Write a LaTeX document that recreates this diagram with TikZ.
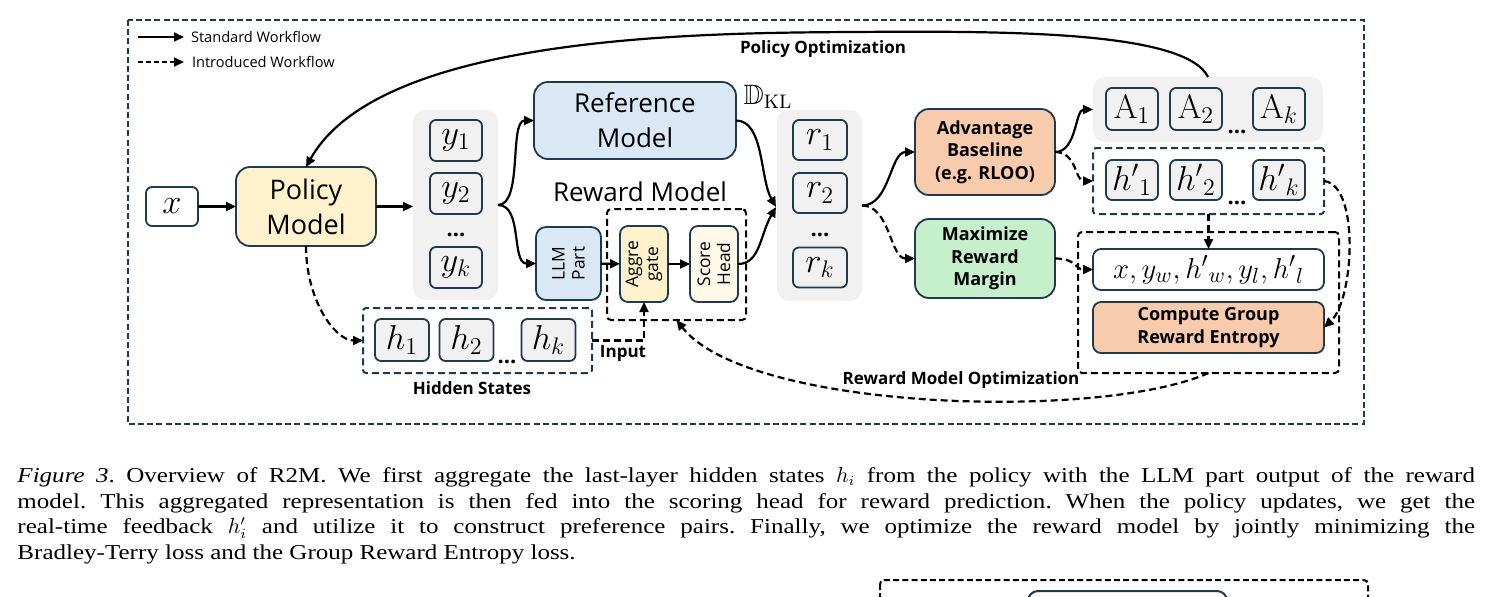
\documentclass[tikz,border=0pt]{standalone}
\usepackage{amsmath}
\usepackage{amssymb}
\usepackage{fontspec}
\setmainfont{Open Sans}
\newfontfamily\capfont[FakeStretch=1.18]{Liberation Serif}
\newfontfamily\lmr{Latin Modern Roman}
\usetikzlibrary{arrows.meta}
\definecolor{bordc}{RGB}{31,58,76}
\definecolor{grayc}{RGB}{241,241,241}
\definecolor{yellowc}{RGB}{255,242,204}
\definecolor{bluec}{RGB}{218,232,245}
\definecolor{creamc}{RGB}{254,249,232}
\definecolor{salmonc}{RGB}{248,203,173}
\definecolor{greenc}{RGB}{198,240,204}
\begin{document}
\begin{tikzpicture}[x=0.5pt,y=-0.5pt,
  every node/.style={inner sep=0pt, outer sep=0pt},
  bx/.style={draw=bordc, line width=0.9pt, rounded corners=3pt, align=center},
  bigbx/.style={draw=bordc, line width=0.9pt, rounded corners=7pt, align=center},
  grp/.style={fill=grayc, rounded corners=6pt},
  dbox/.style={draw=bordc, line width=1pt, dash pattern=on 3.5pt off 2pt, rounded corners=1.5pt},
  kbox/.style={draw=black, line width=1pt, dash pattern=on 3.5pt off 2pt, rounded corners=2pt},
  arr/.style={-{Triangle[length=5pt,width=4.5pt]}, line width=1.1pt},
  darr/.style={arr, dash pattern=on 3.5pt off 2pt},
  mth/.style={font=\fontsize{17}{17}\selectfont},
  lbl/.style={font=\fontsize{8.5}{10}\selectfont\bfseries},
  bld/.style={font=\fontsize{9}{11.25}\selectfont\bfseries, align=center},
  rot/.style={rotate=90, align=center, font=\fontsize{8.7}{10}\selectfont},
  dots/.style={font=\fontsize{11}{11}\selectfont\bfseries},
  leg/.style={font=\fontsize{7.3}{8}\selectfont, anchor=west},
  capl/.style={anchor=base west, font=\capfont\fontsize{10.6}{12.7}\selectfont\frenchspacing},
]
\useasboundingbox (0,0) rectangle (1491,596);
\clip (0,0) rectangle (1491,596);

% outer frame
\draw[draw=bordc, line width=1pt, dash pattern=on 3pt off 1.6pt] (128,20) rectangle (1364,424);

% legend
\coordinate (la1) at (138,37); \coordinate (lb1) at (184,37);
\coordinate (la2) at (138,62); \coordinate (lb2) at (184,62);
\draw[arr, line width=0.9pt] (la1) -- (lb1);
\draw[darr, line width=0.9pt, dash pattern=on 2.5pt off 1.5pt] (la2) -- (lb2);
\node[leg] (leg1) at (191,37) {Standard Workflow};
\node[leg] (leg2) at (192,62) {Introduced Workflow};

% groups
\node[grp, minimum width=42.5pt, minimum height=95pt] (ygrp) at (455.5,205) {};
\node[grp, minimum width=42.5pt, minimum height=95.5pt] (rgrp) at (819.5,205.5) {};
\node[grp, minimum width=115pt, minimum height=32.5pt] (agrp) at (1208,109.5) {};

% left part
\node[bx, fill=white, minimum width=26pt, minimum height=19.5pt, mth] (x) at (172,206.5) {$x$};
\node[bigbx, fill=yellowc, minimum width=70pt, minimum height=39.5pt, font=\fontsize{13.5}{17.5}\selectfont] (policy) at (306,206.5) {Policy\\Model};

\node[bx, fill=grayc, minimum width=26pt, minimum height=20.5pt, mth] (y1) at (456,140.5) {$y_1$};
\node[bx, fill=grayc, minimum width=26pt, minimum height=20.5pt, mth] (y2) at (456,193.5) {$y_2$};
\node[bx, fill=grayc, minimum width=26pt, minimum height=20.5pt, mth] (yk) at (456,267.5) {$y_k$};
\node[dots] (ydots) at (456,235) {...};

% reference / reward model
\node[bigbx, fill=bluec, minimum width=101pt, minimum height=38.5pt, font=\fontsize{13}{17.5}\selectfont] (ref) at (635,120.5) {Reference\\Model};
\node[font=\fontsize{14}{14}\selectfont] (dkl) at (768,97) {$\mathbb{D}_{\text{\lmr KL}}$};
\node[font=\fontsize{13}{13}\selectfont] (rmlabel) at (640,192) {Reward Model};

\node[kbox, minimum width=69.5pt, minimum height=55.5pt] (aggbox) at (676.5,264.5) {};
\node[bx, fill=bluec, rounded corners=5pt, minimum width=32.5pt, minimum height=36.5pt] (llm) at (568.5,263.5) {};
\node[rot] (llmt) at (llm) {LLM\\Part};
\node[bx, fill=yellowc, rounded corners=4pt, minimum width=24pt, minimum height=38pt] (agg) at (644,264) {};
\node[rot] (aggt) at (agg) {Aggre\\gate};
\node[bx, fill=creamc, rounded corners=4pt, minimum width=24pt, minimum height=38pt] (score) at (714,264) {};
\node[rot] (scoret) at (score) {Score\\Head};

% rewards
\node[bx, fill=grayc, minimum width=27pt, minimum height=20pt, mth] (r1) at (820,140) {$r_1$};
\node[bx, fill=grayc, minimum width=27pt, minimum height=20pt, mth] (r2) at (820,193) {$r_2$};
\node[bx, fill=grayc, minimum width=27pt, minimum height=20pt, mth] (rk) at (820,267.5) {$r_k$};
\node[dots] (rdots) at (820,235) {...};
\coordinate (merge) at (776,207);

% advantage / margin
\node[bigbx, fill=salmonc, minimum width=70pt, minimum height=43pt, bld] (adv) at (985,152) {Advantage\\Baseline\\(e.g. RLOO)};
\node[bigbx, fill=greenc, minimum width=70pt, minimum height=39.5pt, bld] (max) at (985,258.5) {Maximize\\Reward\\Margin};

% A group
\node[bx, fill=grayc, minimum width=26pt, minimum height=21pt, font=\fontsize{17}{17}\selectfont] (A1) at (1132,109) {{\lmr A}$_1$};
\node[bx, fill=grayc, minimum width=26pt, minimum height=21pt, font=\fontsize{17}{17}\selectfont] (A2) at (1196,109) {{\lmr A}$_2$};
\node[bx, fill=grayc, minimum width=26pt, minimum height=21pt, font=\fontsize{17}{17}\selectfont] (Ak) at (1279,109) {{\lmr A}$_k$};
\node[dots] (adots) at (1237,132) {...};

% h' group
\node[dbox, minimum width=115.5pt, minimum height=33pt] (hpgrp) at (1208.5,181) {};
\node[bx, fill=grayc, minimum width=26pt, minimum height=20pt, mth] (hp1) at (1132,180) {${h'}_1$};
\node[bx, fill=grayc, minimum width=26pt, minimum height=20pt, mth] (hp2) at (1196,180) {${h'}_2$};
\node[bx, fill=grayc, minimum width=26pt, minimum height=20pt, mth] (hpk) at (1279,180) {${h'}_k$};
\node[dots] (hpdots) at (1237,203) {...};

% right big box
\node[kbox, minimum width=130.5pt, minimum height=70.5pt] (bigbox) at (1208.5,302.5) {};
\node[bx, fill=white, rounded corners=4pt, minimum width=115.5pt, minimum height=20.5pt, font=\fontsize{15.5}{15.5}\selectfont] (formula) at (1208.5,269.5) {$x, y_w, {h'}_w, y_l, {h'}_l$};
\node[bx, fill=salmonc, rounded corners=4pt, minimum width=115.5pt, minimum height=25.5pt, bld] (compute) at (1208.5,327.5) {Compute Group\\Reward Entropy};

% hidden states
\node[dbox, minimum width=114.5pt, minimum height=32.5pt] (hidden) at (477.5,340.5) {};
\node[bx, fill=grayc, minimum width=27pt, minimum height=21pt, mth] (h1) at (402,340) {$h_1$};
\node[bx, fill=grayc, minimum width=27pt, minimum height=21pt, mth] (h2) at (466.5,340) {$h_2$};
\node[bx, fill=grayc, minimum width=27pt, minimum height=21pt, mth] (hk) at (548.5,340) {$h_k$};
\node[dots] (hdots) at (507,362) {...};
\node[lbl] (hslabel) at (472,388) {Hidden States};
\node[lbl] (inlabel) at (623,353) {Input};
\node[lbl] (polabel) at (823,49) {Policy Optimization};
\node[lbl] (rmolabel) at (961,380) {Reward Model Optimization};

% connectors
\draw[arr] (x) -- (policy);
\draw[arr] (policy.east) -- (policy.east -| ygrp.west);
\draw[arr] (ygrp.east) .. controls +(25,0) and +(-25,0) .. (ref.west);
\draw[arr] (ygrp.east) .. controls +(25,0) and +(-25,0) .. (llm.west);
\draw[arr] (llm) -- (agg);
\draw[arr] (agg) -- (score);
\draw[arr] (ref.east) .. controls +(28,0) and +(-16,-28) .. (merge);
\draw[arr] (score.east) .. controls +(22,0) and +(-16,28) .. (merge);
\draw[arr] (rgrp.east) .. controls +(28,0) and +(-25,0) .. (adv.west);
\draw[darr] (rgrp.east) .. controls +(28,0) and +(-25,0) .. (max.west);
\draw[arr] (adv.east) .. controls +(22,0) and +(-18,0) .. (agrp.west);
\draw[darr] (adv.east) .. controls +(22,0) and +(-18,0) .. (hpgrp.west);
\draw[darr] (hpgrp.south) -- (formula.north);
\draw[darr] (max.east) .. controls +(22,0) and +(-18,0) .. (formula.west);
\draw[darr] (hpgrp.east) .. controls +(36,4) and +(30,-28) .. (compute.east);
\draw[darr] (policy.south) .. controls +(0,54) and +(-28,0) .. (hidden.west);
\draw[darr] (hidden.east) -| (agg.south);
\draw[darr] (bigbox.south) .. controls (1100,421) and (748,411) .. (aggbox.south);
\draw[arr] (agrp.north) .. controls (1185,30) and (1000,31) .. (850,32)
   .. controls (700,33) and (380,35) .. (policy.north);

% caption
\node[capl] (cap1) at (17.5,482) {\makebox[728.75pt][s]{\textit{Figure 3}. Overview of R2M. We first aggregate the last-layer hidden states $h_i$ from the policy with the LLM part output of the reward}};
\node[capl] (cap2) at (17.5,508) {\makebox[728.75pt][s]{model. This aggregated representation is then fed into the scoring head for reward prediction. When the policy updates, we get the}};
\node[capl] (cap3) at (17.5,533.5) {\makebox[728.75pt][s]{real-time feedback $h'_i$ and utilize it to construct preference pairs. Finally, we optimize the reward model by jointly minimizing the}};
\node[capl] (cap4) at (17.5,559) {Bradley-Terry loss and the Group Reward Entropy loss.};

% partial next figure
\draw[black, line width=1pt, dash pattern=on 3pt off 1.6pt, rounded corners=2pt] (880,580) rectangle (1368,640);
\draw[bordc, line width=1pt, fill=white, rounded corners=5pt] (1028,591) rectangle (1227,640);
\end{tikzpicture}
\end{document}
